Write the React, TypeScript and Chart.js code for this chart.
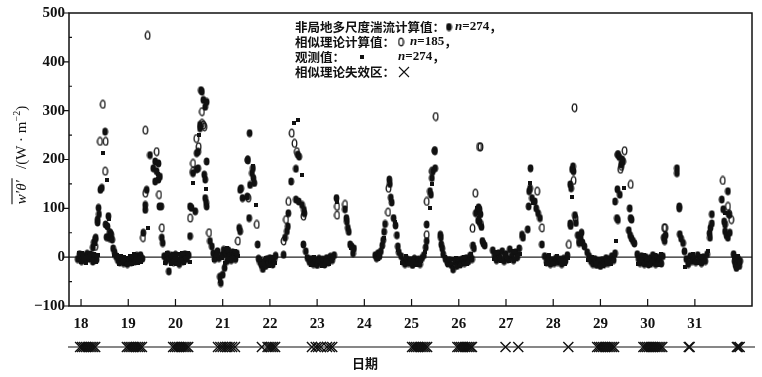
import React, { useEffect, useRef } from 'react';
import { Chart, registerables } from 'chart.js';
Chart.register(...registerables);

// ---- axis ticks ----
const dayTicks = [18, 19, 20, 21, 22, 23, 24, 25, 26, 27, 28, 29, 30, 31];
const valueTicks = [-100, 0, 100, 200, 300, 400, 500];
const minorValueTicks = [-50, 50, 150, 250, 350, 450];

// ---- 非局地多尺度湍流计算值 (filled ellipses) [day, W/m2] ----
const nonlocal: number[][] = [
  [17.93,-4],[17.97,6],[18.01,-8],[18.05,3],[18.09,-6],[18.13,7],[18.17,-3],[18.21,5],[18.25,-9],[18.29,2],[18.33,-5],
  [18.25,20],[18.27,30],[18.30,36],[18.31,40],[18.35,71],[18.35,77],[18.37,101],[18.38,88],[18.41,138],[18.44,142],[18.51,257],[18.52,67],[18.54,41],[18.56,63],[18.58,84],[18.60,39],[18.62,50],[18.64,46],[18.66,36],
  [18.68,18],[18.71,10],[18.74,2],[18.78,-6],[18.82,-10],[18.86,-3],[18.90,-12],[18.94,-8],[18.98,-14],[19.02,-5],[19.06,-10],[19.10,-2],[19.14,-9],[19.18,3],[19.22,-6],[19.26,4],[19.30,-3],
  [19.32,50],[19.36,97],[19.36,107],[19.39,138],[19.46,209],[19.53,182],[19.57,196],[19.57,155],[19.60,176],[19.64,192],[19.64,159],[19.67,165],[19.66,104],[19.70,104],[19.71,40],[19.73,29],
  [19.76,2],[19.80,-8],[19.84,6],[19.86,-29],[19.88,-4],[19.92,3],[19.96,-10],[20.00,5],[20.04,-6],[20.08,-14],[20.12,2],[20.16,-8],[20.20,6],[20.24,-4],[20.28,4],
  [20.31,43],[20.31,104],[20.34,101],[20.37,172],[20.42,94],[20.45,180],[20.45,213],[20.48,182],[20.48,216],[20.52,264],[20.52,271],[20.54,342],[20.56,339],[20.59,322],[20.63,308],[20.66,318],[20.66,196],[20.61,169],[20.63,159],[20.63,121],[20.66,104],[20.65,112],[20.73,33],[20.77,22],
  [20.80,8],[20.83,-4],[20.86,2],[20.89,12],[20.92,-2],[20.94,-40],[20.96,-53],[20.98,4],[21.00,-36],[21.02,15],[21.04,-22],[21.06,6],[21.09,-8],[21.12,14],[21.15,2],[21.18,-6],[21.21,10],[21.24,3],[21.27,-4],[21.30,8],
  [21.35,60],[21.37,53],[21.37,138],[21.39,141],[21.42,121],[21.52,124],[21.53,199],[21.56,80],[21.57,254],[21.58,148],[21.62,172],[21.64,182],[21.65,162],[21.67,152],[21.74,26],
  [21.76,-3],[21.79,-10],[21.82,-16],[21.85,-24],[21.88,-8],[21.91,-18],[21.94,-4],[21.97,-12],[22.00,-2],[22.03,-9],[22.06,-15],[22.09,-5],[22.12,3],
  [22.29,5],[22.32,40],[22.36,53],[22.38,63],[22.39,90],[22.45,155],[22.55,181],[22.59,210],[22.62,206],[22.55,118],[22.61,114],[22.68,107],[22.72,97],[22.73,90],[22.71,26],[22.76,12],
  [22.80,-2],[22.84,-10],[22.88,-4],[22.92,-14],[22.96,-6],[23.00,-16],[23.04,-3],[23.08,-12],[23.12,-5],[23.16,-15],[23.20,-2],[23.24,-10],[23.28,1],[23.32,-6],[23.36,4],
  [23.41,121],[23.59,98],[23.62,80],[23.63,73],[23.65,60],[23.67,52],[23.70,26],[23.73,22],[23.76,8],[23.78,18],
  [24.23,4],[24.26,-2],[24.29,8],[24.32,2],[24.35,12],[24.38,24],[24.40,35],[24.42,52],[24.44,68],[24.53,159],[24.54,150],[24.56,122],[24.58,112],[24.62,80],[24.66,65],[24.69,45],[24.71,22],[24.73,10],
  [24.78,2],[24.82,-8],[24.86,-14],[24.90,-4],[24.94,-12],[24.98,-6],[25.02,-16],[25.06,-3],[25.10,-11],[25.14,-5],[25.18,-14],[25.22,-2],[25.26,4],
  [25.30,20],[25.32,33],[25.32,67],[25.39,135],[25.41,128],[25.43,162],[25.45,176],[25.49,218],[25.50,182],[25.61,46],[25.62,40],[25.63,26],[25.65,18],[25.67,6],
  [25.72,-4],[25.76,-12],[25.80,-6],[25.84,-16],[25.88,-25],[25.92,-10],[25.96,-18],[26.00,-6],[26.04,-14],[26.08,-4],[26.12,-12],[26.16,-2],[26.20,-9],[26.24,3],[26.28,-4],
  [26.30,24],[26.32,18],[26.36,90],[26.40,96],[26.42,102],[26.44,98],[26.46,88],[26.41,75],[26.44,72],[26.48,62],[26.50,33],[26.52,28],[26.55,24],
  [26.72,14],[26.76,4],[26.80,-6],[26.84,8],[26.88,-2],[26.92,12],[26.96,-8],[27.00,6],[27.04,-4],[27.08,16],[27.12,2],[27.16,-6],[27.20,10],[27.24,0],[27.28,18],
  [27.34,46],[27.36,40],[27.46,57],[27.48,104],[27.49,135],[27.51,141],[27.52,182],[27.55,121],[27.61,114],[27.64,100],[27.68,90],[27.72,80],[27.76,26],
  [27.82,2],[27.86,-10],[27.90,-4],[27.94,-14],[27.98,-6],[28.02,-12],[28.06,-2],[28.10,-10],[28.14,-5],[28.18,-14],[28.22,-3],[28.26,-8],[28.30,4],
  [28.36,69],[28.37,64],[28.36,149],[28.38,141],[28.40,180],[28.42,186],[28.43,176],[28.46,86],[28.48,70],[28.52,45],[28.55,29],[28.58,40],[28.60,50],[28.62,30],[28.66,22],
  [28.72,10],[28.76,2],[28.80,-8],[28.84,-14],[28.88,-4],[28.92,-16],[28.96,-8],[29.00,-18],[29.04,-6],[29.08,-14],[29.12,-2],[29.16,-12],[29.20,-4],[29.24,2],[29.28,-6],[29.31,8],
  [29.31,114],[29.35,80],[29.37,76],[29.36,139],[29.41,128],[29.37,210],[29.40,205],[29.44,190],[29.46,200],[29.48,196],[29.62,100],[29.64,80],[29.66,77],[29.60,55],[29.63,45],[29.66,38],[29.69,33],[29.72,28],
  [29.78,6],[29.81,-4],[29.84,-12],[29.87,2],[29.90,-8],[29.93,-14],[29.96,0],[29.99,-10],[30.02,-15],[30.05,-2],[30.08,-12],[30.11,4],[30.14,-6],[30.17,-14],[30.20,0],[30.23,-10],[30.26,-4],[30.29,-13],[30.32,2],
  [30.34,40],[30.36,33],[30.38,45],[30.62,182],[30.62,172],[30.67,104],[30.67,100],[30.68,47],[30.71,38],[30.75,29],
  [30.78,12],[30.82,-4],[30.86,-14],[30.90,2],[30.94,-8],[30.98,-2],[31.02,-10],[31.06,4],[31.10,-6],[31.14,-12],[31.18,0],[31.22,-8],[31.26,6],
  [31.31,49],[31.32,40],[31.33,60],[31.36,69],[31.36,88],[31.57,118],[31.60,98],[31.62,73],[31.64,67],[31.70,135],[31.64,53],[31.67,45],[31.70,40],[31.74,50],[31.72,88],
  [31.82,6],[31.84,-8],[31.86,-16],[31.88,-22],[31.90,-12],[31.92,-4],[31.94,-18],[31.96,-8],
];

// ---- 相似理论计算值 (open ellipses) ----
const similarity: number[][] = [
  [18.46,313],[18.40,237],[18.52,237],[18.51,176],[18.30,22],[18.60,50],
  [19.36,260],[19.41,454],[19.36,131],[19.31,40],[19.60,216],[19.65,128],[19.71,60],
  [20.31,80],[20.37,192],[20.37,176],[20.44,243],[20.49,226],[20.56,274],[20.59,271],[20.56,298],[20.61,267],[20.71,50],
  [21.32,33],[21.53,199],[21.54,121],[21.72,67],
  [22.29,33],[22.34,77],[22.39,114],[22.46,254],[22.52,233],[22.57,216],[22.71,84],
  [23.42,104],[23.42,86],[23.59,108],
  [24.51,141],[24.50,92],
  [25.32,46],[25.32,114],[25.43,176],[25.49,218],[25.51,288],
  [26.29,59],[26.35,131],[26.47,67],[26.43,226],[26.46,226],
  [27.66,135],[27.76,60],
  [28.33,26],[28.43,157],[28.45,306],[28.47,80],[28.55,33],
  [29.37,210],[29.51,218],[29.42,180],[29.44,186],[29.64,149],
  [30.35,60],[30.37,60],
  [31.59,157],[31.70,104],[31.73,88],[31.77,77],
];

// ---- 观测值 (small squares) ----
const observed: number[][] = [
  [17.95,8],[17.99,-10],[18.03,9],[18.07,-2],[18.11,-11],[18.15,1],[18.19,9],[18.23,-6],[18.27,6],[18.31,-10],[18.35,4],
  [18.46,213],[18.54,159],[18.59,78],[18.30,26],
  [18.70,5],[18.76,4],[18.80,-13],[18.84,2],[18.88,-5],[18.92,0],[18.96,-2],[19.00,-13],[19.04,3],[19.08,-14],[19.12,6],[19.16,-4],[19.20,-12],[19.24,-1],[19.28,-10],
  [19.41,60],[19.46,210],[19.62,170],
  [19.78,-12],[19.82,8],[19.90,-13],[19.94,7],[19.98,-3],[20.02,-14],[20.06,6],[20.10,-5],[20.14,8],[20.18,-12],[20.22,-1],[20.26,8],[20.30,-9],
  [20.38,152],[20.50,250],[20.64,140],
  [20.82,-6],[20.88,4],[20.95,-48],[20.99,-2],[21.05,-12],[21.10,18],[21.14,-3],[21.20,-2],[21.26,12],[21.32,2],
  [21.65,186],[21.70,107],
  [21.80,-4],[21.86,-14],[21.92,-2],[21.98,-18],[22.04,0],[22.10,-12],
  [22.52,274],[22.59,281],[22.68,169],
  [22.78,0],[22.86,-16],[22.94,0],[23.02,-8],[23.10,-18],[23.18,-7],[23.26,-14],[23.34,-2],
  [23.43,112],[23.72,19],
  [24.28,-4],[24.34,6],[24.41,40],[24.57,118],[24.64,72],[24.72,14],
  [24.80,-12],[24.88,2],[24.96,-15],[25.04,-9],[25.12,-16],[25.20,-8],[25.28,10],
  [25.40,101],[25.44,150],
  [25.70,0],[25.78,-16],[25.86,-4],[25.94,-2],[26.02,-18],[26.10,0],[26.18,-14],[26.26,6],
  [26.42,80],[26.38,100],
  [26.74,-4],[26.82,10],[26.90,-8],[26.98,2],[27.06,-8],[27.14,12],[27.22,-4],[27.30,6],
  [27.50,152],[27.58,110],
  [27.84,-14],[27.92,4],[28.00,-15],[28.08,2],[28.16,-8],[28.24,-14],[28.32,-2],
  [28.39,124],
  [28.74,-6],[28.82,0],[28.90,-12],[28.98,-4],[29.06,-18],[29.14,-8],[29.22,-14],[29.30,4],
  [29.33,33],[29.50,141],
  [29.80,-14],[29.86,-6],[29.92,4],[29.98,-4],[30.04,-16],[30.10,-8],[30.16,4],[30.22,-16],[30.28,6],
  [30.80,-20],[30.88,-10],[30.96,6],[31.04,-12],[31.12,2],[31.20,-10],[31.28,12],
  [31.63,90],
  [31.83,-2],[31.87,-20],[31.91,2],[31.95,-12],
];

// ---- 相似理论失效区 (crosses on the lower strip) ----
const failureZone: number[] = [
  17.98,18.02,18.06,18.10,18.14,18.18,18.22,18.26,18.30,
  18.97,19.01,19.05,19.09,19.13,19.17,19.21,19.25,19.29,
  19.95,19.99,20.03,20.07,20.11,20.15,20.19,20.23,20.27,
  20.90,20.95,21.00,21.05,21.10,21.15,21.20,21.26,
  21.83,21.95,21.99,22.03,22.07,22.11,
  22.89,22.97,23.02,23.08,23.21,23.27,23.32,
  25.01,25.05,25.09,25.13,25.17,25.21,25.25,25.29,25.33,
  25.97,26.01,26.05,26.09,26.13,26.17,26.21,26.25,26.28,
  26.99,27.26,
  28.32,
  28.93,28.97,29.01,29.05,29.09,29.13,29.17,29.21,29.25,29.29,
  29.91,29.95,29.99,30.03,30.07,30.11,30.15,30.19,30.23,30.27,30.31,
  30.87,30.89,
  31.89,31.92,31.95,
];

const legendTexts = ['非局地多尺度湍流计算值：', '相似理论计算值：', '观测值：', '相似理论失效区：'];
const legendCounts = ['274', '185', '274'];
const xTitle = '日期';

const INK = '#111';
const SERIF = '"Liberation Serif", "DejaVu Serif", serif';
const CJK = '"Noto Sans CJK SC", sans-serif';

function makeFilled() {
  const c = document.createElement('canvas');
  c.width = 7; c.height = 9;
  const g = c.getContext('2d')!;
  g.fillStyle = INK;
  g.beginPath(); g.ellipse(3.5, 4.5, 2.9, 3.9, 0, 0, Math.PI * 2); g.fill();
  return c;
}
function makeOpen() {
  const c = document.createElement('canvas');
  c.width = 7; c.height = 10;
  const g = c.getContext('2d')!;
  g.strokeStyle = INK; g.lineWidth = 1.3;
  g.beginPath(); g.ellipse(3.5, 5, 2.3, 3.9, 0, 0, Math.PI * 2); g.stroke();
  return c;
}
function makeSquare() {
  const c = document.createElement('canvas');
  c.width = 4; c.height = 4;
  const g = c.getContext('2d')!;
  g.fillStyle = INK; g.fillRect(0, 0, 4, 4);
  return c;
}

function drawCross(ctx: CanvasRenderingContext2D, x: number, y: number, h: number, lw: number) {
  ctx.save();
  ctx.strokeStyle = INK; ctx.lineWidth = lw;
  ctx.beginPath();
  ctx.moveTo(x - h, y - h); ctx.lineTo(x + h, y + h);
  ctx.moveTo(x - h, y + h); ctx.lineTo(x + h, y - h);
  ctx.stroke();
  ctx.restore();
}

export default function App() {
  const ref = useRef<HTMLCanvasElement | null>(null);
  useEffect(() => {
    const canvas = ref.current!;
    const filledImg = makeFilled();
    const openImg = makeOpen();
    const squareImg = makeSquare();

    const decor = {
      id: 'decor',
      beforeDatasetsDraw(chart: any) {
        const { ctx, chartArea: a, scales } = chart;
        const y0 = scales.y.getPixelForValue(0);
        ctx.save();
        ctx.strokeStyle = '#222'; ctx.lineWidth = 1.2;
        ctx.beginPath(); ctx.moveTo(a.left, y0); ctx.lineTo(a.right, y0); ctx.stroke();
        ctx.restore();
      },
      afterDraw(chart: any) {
        const { ctx, chartArea: a, scales } = chart;
        const xs = scales.x, ys = scales.y;
        ctx.save();
        // frame
        ctx.strokeStyle = INK; ctx.lineWidth = 1.5;
        ctx.strokeRect(a.left, a.top, a.right - a.left, a.bottom - a.top);
        // ticks
        ctx.lineWidth = 1.2;
        ctx.beginPath();
        dayTicks.forEach((d) => { const p = xs.getPixelForValue(d); ctx.moveTo(p, a.bottom); ctx.lineTo(p, a.bottom - 7); });
        valueTicks.forEach((v) => { const p = ys.getPixelForValue(v); ctx.moveTo(a.left - 5, p); ctx.lineTo(a.left, p); });
        minorValueTicks.forEach((v) => { const p = ys.getPixelForValue(v); ctx.moveTo(a.left, p); ctx.lineTo(a.left + 3, p); });
        ctx.stroke();

        // lower strip: failure zones
        const stripY = 347;
        ctx.lineWidth = 1.2;
        ctx.beginPath(); ctx.moveTo(a.left - 1, stripY); ctx.lineTo(a.right + 3, stripY); ctx.stroke();
        failureZone.forEach((d) => drawCross(ctx, xs.getPixelForValue(d), stripY, 5, 1.4));

        // x title
        ctx.fillStyle = INK;
        ctx.font = 'bold 13px ' + CJK;
        ctx.textAlign = 'center'; ctx.textBaseline = 'middle';
        ctx.fillText(xTitle, 365, 363);

        // y title (rotated) with overline on w'θ'
        ctx.save();
        ctx.translate(26, 155);
        ctx.rotate(-Math.PI / 2);
        ctx.textAlign = 'left'; ctx.textBaseline = 'alphabetic';
        const fItal = 'italic 15px ' + SERIF;
        const fNorm = '15px ' + SERIF;
        const fSup = '10px ' + SERIF;
        const s1 = 'w′θ′', s2 = '   /(W · m', s3 = '−2', s4 = ')';
        ctx.font = fItal; const w1 = ctx.measureText(s1).width;
        ctx.font = fNorm; const w2 = ctx.measureText(s2).width; const w4 = ctx.measureText(s4).width;
        ctx.font = fSup; const w3 = ctx.measureText(s3).width;
        let x = -(w1 + w2 + w3 + w4) / 2;
        ctx.font = fItal; ctx.fillText(s1, x, 0);
        ctx.lineWidth = 1.1;
        ctx.beginPath(); ctx.moveTo(x, -14); ctx.lineTo(x + w1 + 2, -14); ctx.stroke();
        x += w1;
        ctx.font = fNorm; ctx.fillText(s2, x, 0); x += w2;
        ctx.font = fSup; ctx.fillText(s3, x, -6); x += w3;
        ctx.font = fNorm; ctx.fillText(s4, x, 0);
        ctx.restore();

        // legend block
        const lx = 295;
        const rows = [27, 42, 57, 72];
        ctx.textAlign = 'left'; ctx.textBaseline = 'middle';
        ctx.font = 'bold 12.5px ' + CJK;
        legendTexts.forEach((t, i) => ctx.fillText(t, lx, rows[i]));
        const drawCount = (x0: number, y: number, n: string) => {
          let xx = x0;
          ctx.font = 'italic bold 13px ' + SERIF; ctx.fillText('n', xx, y); xx += ctx.measureText('n').width;
          ctx.font = 'bold 13px ' + SERIF; const s = '=' + n; ctx.fillText(s, xx, y); xx += ctx.measureText(s).width;
          ctx.font = 'bold 12.5px ' + CJK; ctx.fillText('，', xx, y);
        };
        ctx.drawImage(filledImg, 449 - 3.5, rows[0] - 4.5);
        drawCount(455, rows[0], legendCounts[0]);
        ctx.drawImage(openImg, 401 - 3.5, rows[1] - 5);
        drawCount(410, rows[1], legendCounts[1]);
        ctx.drawImage(squareImg, 362 - 2, rows[2] - 2);
        drawCount(398, rows[2], legendCounts[2]);
        drawCross(ctx, 404, rows[3], 5, 1.1);
        ctx.restore();
      },
    };

    const toPts = (arr: number[][]) => arr.map(([x, y]) => ({ x, y }));
    const chart = new Chart(canvas, {
      type: 'scatter',
      data: {
        datasets: [
          { label: '相似理论计算值', data: toPts(similarity), pointStyle: openImg as any, pointRadius: 4 },
          { label: '观测值', data: toPts(observed), pointStyle: squareImg as any, pointRadius: 2 },
          { label: '非局地多尺度湍流计算值', data: toPts(nonlocal), pointStyle: filledImg as any, pointRadius: 3 },
        ],
      },
      options: {
        animation: false,
        responsive: false,
        maintainAspectRatio: false,
        layout: { padding: { top: 12, right: 10, left: 0, bottom: 0 } },
        plugins: { legend: { display: false }, tooltip: { enabled: false } },
        scales: {
          x: {
            type: 'linear', min: 17.745, max: 32.21,
            grid: { display: false, drawTicks: false },
            border: { display: false },
            ticks: { color: INK, font: { family: SERIF, size: 15, weight: 'bold' }, padding: 9, maxRotation: 0, autoSkip: false, includeBounds: false },
            afterBuildTicks: (s: any) => { s.ticks = dayTicks.map((v) => ({ value: v })); },
            afterFit: (s: any) => { s.height = 71; },
          },
          y: {
            type: 'linear', min: -100, max: 500,
            grid: { display: false, drawTicks: false },
            border: { display: false },
            ticks: {
              color: INK, font: { family: SERIF, size: 15, weight: 'bold' }, padding: 4,
              callback: (v: any) => (v < 0 ? '−' + Math.abs(v) : String(v)),
            },
            afterBuildTicks: (s: any) => { s.ticks = valueTicks.map((v) => ({ value: v })); },
            afterFit: (s: any) => { s.width = 69; },
          },
        },
      },
      plugins: [decor],
    });
    return () => chart.destroy();
  }, []);

  return (
    <div style={{ position: 'fixed', left: 0, top: 0, width: 762, height: 377, background: '#fff' }}>
      <canvas ref={ref} width={762} height={377} style={{ display: 'block' }} />
    </div>
  );
}
